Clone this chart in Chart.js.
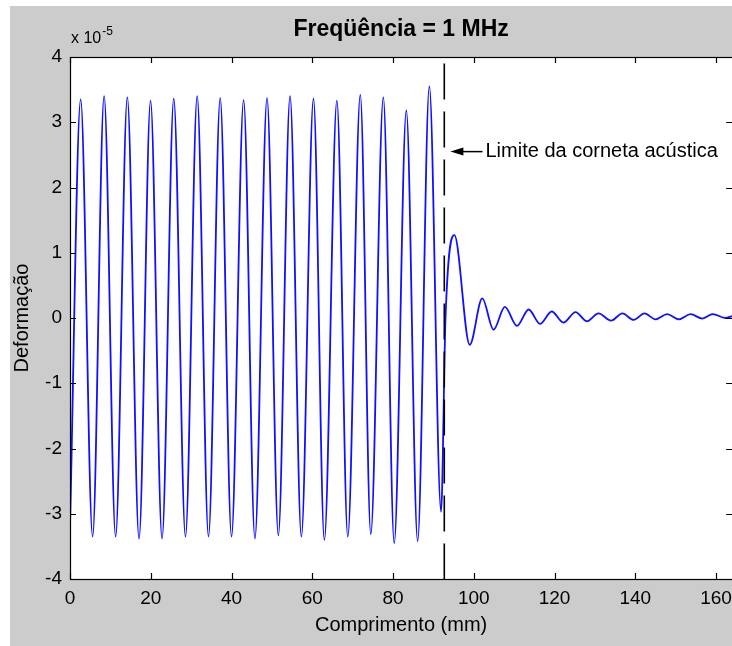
<!DOCTYPE html>
<html><head><meta charset="utf-8">
<script src="https://cdn.jsdelivr.net/npm/chart.js@4.4.1/dist/chart.umd.min.js"></script>
<style>
html,body{margin:0;padding:0;background:#fff;overflow:hidden;width:732px;height:646px;}
#fig{position:absolute;left:10px;top:6px;width:730px;height:640px;background:#cccccc;}
canvas{display:block}
</style></head><body>
<div id="fig"><canvas id="c" width="730" height="640"></canvas></div>
<script>
// ---- text ----
const TITLE = 'Freqüência = 1 MHz';
const X_LABEL = 'Comprimento (mm)';
const Y_LABEL = 'Deformação';
const Y_EXPONENT = '-5';
const ANNOTATION = 'Limite da corneta acústica';

// ---- axes ----
const X_MIN = 0, X_MAX = 164, X_STEP = 20;
const Y_MIN = -4, Y_MAX = 4, Y_STEP = 1;

// ---- horn limit (dashed vertical line) ----
const HORN_LIMIT_X = 92.7;
const HORN_LINE_Y = [3.9, -4];
const ANNOT_HEAD_X = 94.2, ANNOT_TEXT_X = 102.9, ANNOT_Y = 2.55;

// ---- signal: position (mm) and deformation (x 10^-5), peaks & troughs ----
const positionMm = [
  0, 2.64, 5.6, 8.45, 11.3, 14.2, 17.1, 19.95, 22.8, 25.7, 28.6, 31.5, 34.3,
  37.2, 40.0, 43.0, 45.8, 48.8, 51.6, 54.5, 57.3, 60.3, 63.0, 66.1, 68.8,
  71.9, 74.5, 77.6, 80.3, 83.3, 86.1, 89.0, 91.9,
  93.0, 95.2, 99.0, 102.1, 104.9, 107.7, 110.7, 113.6, 116.4, 119.3, 122.2,
  125.2, 128.0, 130.9, 134.0, 136.8, 139.6, 142.3, 145.0, 147.9, 150.8,
  153.7, 156.6, 159.2, 162.3, 164
];
const deformation = [
  -3.2, 3.35, -3.35, 3.40, -3.35, 3.38, -3.38, 3.33, -3.38, 3.36, -3.35, 3.40, -3.35,
  3.37, -3.35, 3.34, -3.38, 3.37, -3.33, 3.40, -3.35, 3.36, -3.40, 3.33, -3.35,
  3.42, -3.31, 3.38, -3.45, 3.18, -3.42, 3.55, -2.97,
  0.0, 1.27, -0.41, 0.30, -0.18, 0.17, -0.12, 0.13, -0.09, 0.10, -0.07,
  0.09, -0.05, 0.07, -0.04, 0.07, -0.03, 0.07, -0.02, 0.06, -0.02,
  0.06, -0.01, 0.06, 0.0, 0.03
];

const FONT = '"Liberation Sans", Arial, sans-serif';

const figPlugin = {
  id: 'figDecor',
  beforeDatasetsDraw(chart) {
    const {ctx, chartArea: a} = chart;
    ctx.save();
    ctx.fillStyle = '#ffffff';
    ctx.fillRect(a.left, a.top, a.right - a.left, a.bottom - a.top);
    ctx.restore();
  },
  afterDraw(chart) {
    const {ctx, chartArea: a, scales: {x, y}} = chart;
    ctx.save();
    // axes box
    ctx.strokeStyle = '#000'; ctx.lineWidth = 1.2;
    ctx.strokeRect(a.left + 0.5, a.top + 0.5, a.right - a.left, a.bottom - a.top);
    // inward ticks
    const L = 6;
    ctx.beginPath();
    x.ticks.forEach(t => {
      const px = Math.round(x.getPixelForValue(t.value)) + 0.5;
      ctx.moveTo(px, a.bottom); ctx.lineTo(px, a.bottom - L);
      ctx.moveTo(px, a.top); ctx.lineTo(px, a.top + L);
    });
    y.ticks.forEach(t => {
      const py = Math.round(y.getPixelForValue(t.value)) + 0.5;
      ctx.moveTo(a.left, py); ctx.lineTo(a.left + L, py);
      ctx.moveTo(a.right, py); ctx.lineTo(a.right - L, py);
    });
    ctx.stroke();

    ctx.fillStyle = '#000';
    // title
    ctx.font = 'bold 23px ' + FONT;
    ctx.textAlign = 'center'; ctx.textBaseline = 'middle';
    ctx.fillText(TITLE, (a.left + a.right) / 2, a.top - 27);
    // x label
    ctx.font = '20px ' + FONT;
    ctx.fillText(X_LABEL, (a.left + a.right) / 2, a.bottom + 46);
    // y label
    ctx.save();
    ctx.translate(a.left - 48, (a.top + a.bottom) / 2);
    ctx.rotate(-Math.PI / 2);
    ctx.fillText(Y_LABEL, 0, 0);
    ctx.restore();
    // exponent
    ctx.textAlign = 'left'; ctx.textBaseline = 'alphabetic';
    ctx.font = '16px ' + FONT;
    ctx.fillText('x 10', a.left + 1, a.top - 14);
    const w = ctx.measureText('x 10').width;
    ctx.font = '12px ' + FONT;
    ctx.fillText(Y_EXPONENT, a.left + 1 + w + 1, a.top - 22);
    // annotation arrow + text
    const hx = x.getPixelForValue(ANNOT_HEAD_X);
    const tx = x.getPixelForValue(ANNOT_TEXT_X);
    const ay = y.getPixelForValue(ANNOT_Y);
    ctx.lineWidth = 1.5;
    ctx.beginPath();
    ctx.moveTo(tx - 3, ay); ctx.lineTo(hx + 10, ay);
    ctx.stroke();
    ctx.beginPath();
    ctx.moveTo(hx, ay); ctx.lineTo(hx + 13, ay - 4); ctx.lineTo(hx + 13, ay + 4); ctx.closePath();
    ctx.fill();
    ctx.font = '20px ' + FONT;
    ctx.textBaseline = 'middle';
    ctx.fillText(ANNOTATION, tx, ay);
    ctx.restore();
  }
};

const signal = positionMm.map((v, i) => ({x: v, y: deformation[i]}));
const hornLine = HORN_LINE_Y.map(v => ({x: HORN_LIMIT_X, y: v}));

new Chart(document.getElementById('c'), {
  type: 'line',
  data: {
    datasets: [
      {data: hornLine, borderColor: '#000', borderWidth: 1.6, borderDash: [36, 12], pointRadius: 0, tension: 0},
      {data: signal, borderColor: '#1010ff', borderWidth: 1.8, pointRadius: 0, cubicInterpolationMode: 'monotone'}
    ]
  },
  options: {
    responsive: false,
    devicePixelRatio: 1,
    animation: false,
    events: [],
    layout: {padding: {top: 51, right: 5, left: 0, bottom: 0}},
    plugins: {legend: {display: false}, tooltip: {enabled: false}, title: {display: false}},
    scales: {
      x: {
        type: 'linear', min: X_MIN, max: X_MAX,
        grid: {display: false, drawTicks: false}, border: {display: false},
        ticks: {stepSize: X_STEP, includeBounds: false, maxRotation: 0, autoSkip: false,
                padding: 8, color: '#000', font: {family: FONT, size: 19}},
        afterFit: s => { s.height = 67; }
      },
      y: {
        type: 'linear', min: Y_MIN, max: Y_MAX,
        grid: {display: false, drawTicks: false}, border: {display: false},
        ticks: {stepSize: Y_STEP, padding: 8, color: '#000', font: {family: FONT, size: 19}},
        afterFit: s => { s.width = 60; }
      }
    }
  },
  plugins: [figPlugin]
});
</script>
</body></html>
